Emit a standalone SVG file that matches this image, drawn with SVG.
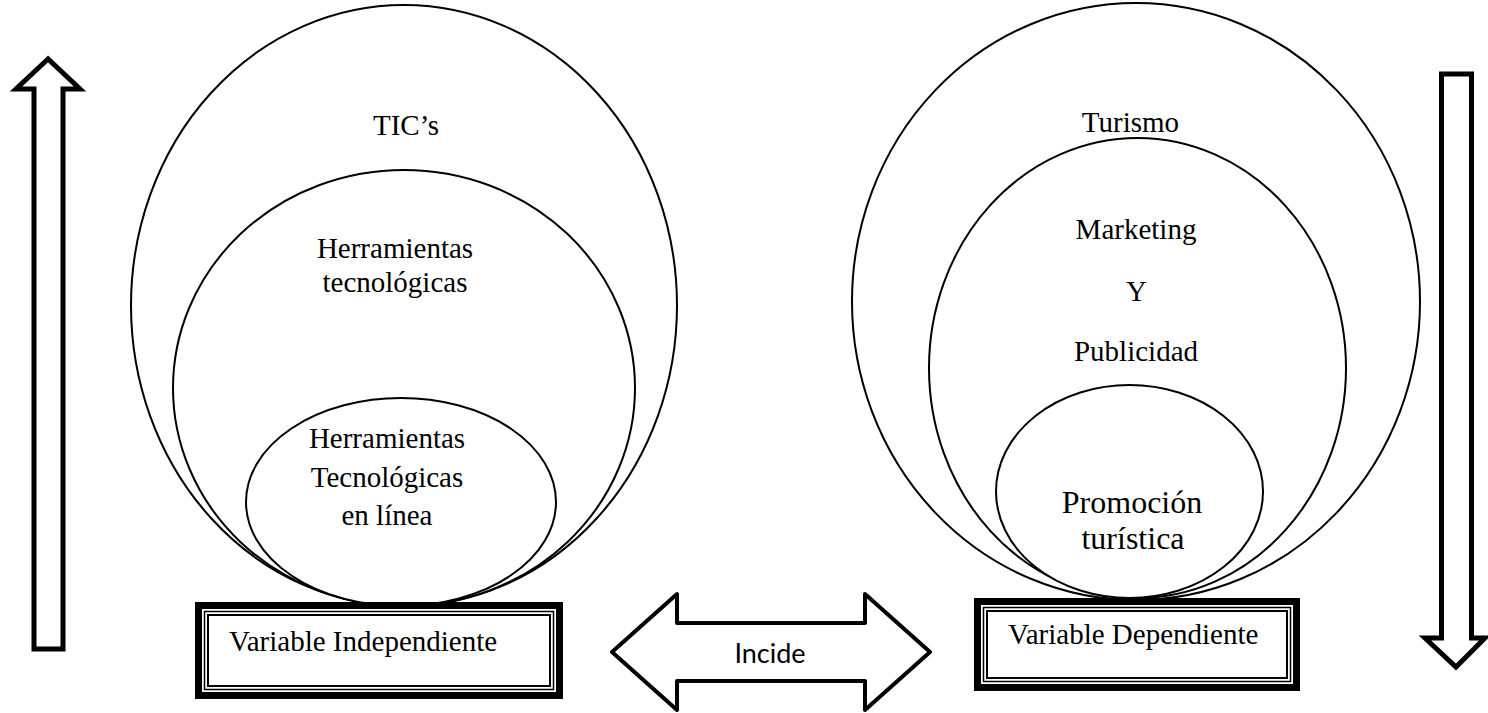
<svg xmlns="http://www.w3.org/2000/svg" width="1488" height="713" viewBox="0 0 1488 713">
<style>
.e{fill:none;stroke:#000;stroke-width:2}
.ew{fill:#fff;stroke:#000;stroke-width:2}
.t{font-family:"Liberation Serif","Times New Roman",serif;font-size:29px;fill:#000;text-anchor:middle}
.tl{font-family:"Liberation Serif","Times New Roman",serif;font-size:29px;fill:#000}
.arr{fill:#fff;stroke:#000;stroke-width:5;stroke-linejoin:miter}
.thick{fill:#fff;stroke:#000;stroke-width:7}
.thin1{fill:none;stroke:#000;stroke-width:1.5}
.thin2{fill:none;stroke:#000;stroke-width:2}
</style>
<rect width="1488" height="713" fill="#fff"/>
<g id="left-circles">
<ellipse class="ew" cx="404" cy="305.5" rx="273" ry="300.5"/>
<ellipse class="ew" cx="404" cy="388" rx="231" ry="218"/>
<ellipse class="ew" cx="401" cy="502" rx="155" ry="104"/>
<text class="t" x="406" y="135">TIC’s</text>
<text class="t" x="395" y="258">Herramientas</text>
<text class="t" x="395" y="292">tecnológicas</text>
<text class="t" x="387" y="448">Herramientas</text>
<text class="t" x="387" y="487">Tecnológicas</text>
<text class="t" x="387" y="525">en línea</text>
</g>
<g id="right-circles">
<ellipse class="ew" cx="1136" cy="301.5" rx="284" ry="298.5"/>
<ellipse class="ew" cx="1137.5" cy="368" rx="208.5" ry="230"/>
<ellipse class="ew" cx="1129.5" cy="491.5" rx="133.5" ry="106.5"/>
<text class="t" x="1130.5" y="132">Turismo</text>
<text class="t" x="1136" y="239">Marketing</text>
<text class="t" x="1136.5" y="301">Y</text>
<text class="t" x="1136" y="361">Publicidad</text>
<text class="t" x="1132" y="513" style="font-size:32px">Promoción</text>
<text class="t" x="1133" y="549" style="font-size:32px">turística</text>
</g>
<g id="box-independiente">
<rect class="thick" x="198.5" y="605.5" width="361" height="90"/>
<rect class="thin1" x="204.5" y="611.5" width="349" height="78"/>
<rect class="thin2" x="208" y="615" width="342" height="71"/>
<text class="tl" x="229" y="651">Variable Independiente</text>
</g>
<g id="box-dependiente">
<rect class="thick" x="977.5" y="601.5" width="319" height="86"/>
<rect class="thin1" x="983.5" y="607.5" width="307" height="74"/>
<rect class="thin2" x="987" y="611" width="300" height="67"/>
<text class="tl" x="1008" y="644">Variable Dependiente</text>
</g>
<g id="connectors">
<polygon id="arrow-up" class="arr" points="48,59 16,89 34,89 34,649 63,649 63,89 80,89"/>
<polygon id="arrow-down" class="arr" points="1441.5,74 1471.5,74 1471.5,638 1485,638 1456,667 1425,638 1441.5,638"/>
<g id="arrow-incide">
<polygon style="fill:#fff;stroke:#000;stroke-width:4;stroke-linejoin:round" points="612,652 677,594 677,623 865,623 865,594 930,652 865,710 865,681 677,681 677,710"/>
<text x="770" y="663" style="font-family:Lato,'Open Sans',sans-serif;font-size:27px;fill:#000;text-anchor:middle">Incide</text>
</g>
</g>
</svg>
